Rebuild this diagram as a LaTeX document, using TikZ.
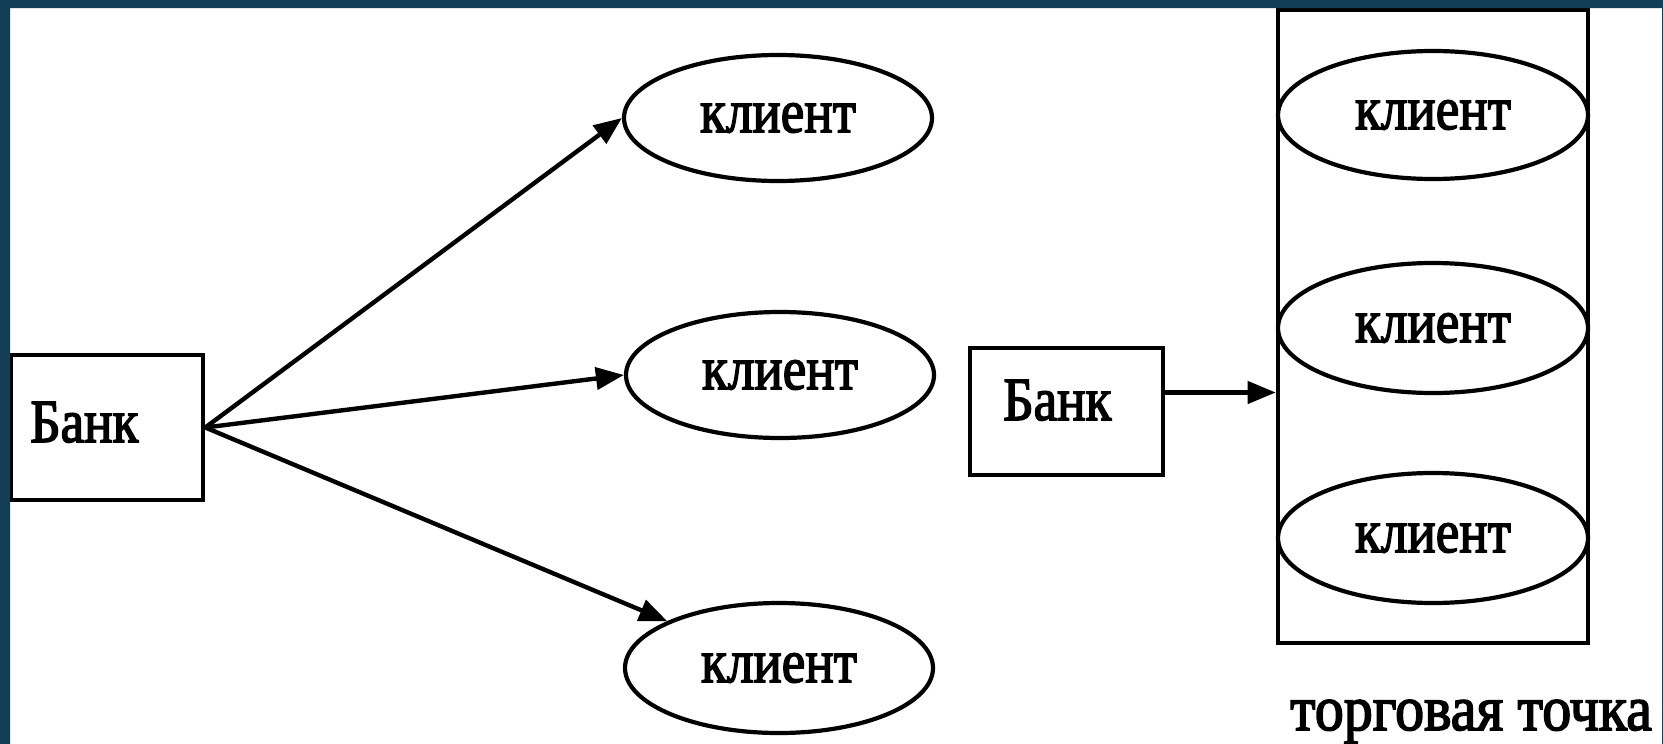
\documentclass[tikz,border=0pt]{standalone}
\usepackage{fontspec}
\usepackage{graphicx}
\setmainfont{Liberation Serif}
\newfontfamily\medfont{Liberation Serif}[FakeBold=2.6]
\usetikzlibrary{shapes.geometric,arrows.meta}
\definecolor{framecol}{HTML}{123F56}
\newcommand\mytxt{\medfont\fontsize{51}{60}\selectfont}
\newcommand\bigtxt{\medfont\fontsize{58}{66}\selectfont}
\newcommand\vs[1]{\scalebox{1.04}[1.2]{#1}}
\begin{document}
\begin{tikzpicture}[x=1pt,y=-1pt,
  box/.style={draw, rectangle, line width=4.6pt, inner sep=0pt},
  cli/.style={draw, ellipse, line width=4.2pt, inner sep=0pt, minimum width=308pt, minimum height=126pt, font=\mytxt},
  arr/.style={line width=4.4pt, -{Triangle[length=28pt,width=22pt]}},
  lbl/.style={font=\mytxt, inner sep=0pt, anchor=base west}]
\useasboundingbox (0,0) rectangle (1663,744);
\fill[white] (0,0) rectangle (1663,744);
% left part
\node[box, minimum width=192pt, minimum height=145pt] (bank1) at (107,427.5) {};
\node[lbl] (bank1t) at (30,442) {\vs{Банк}};
\node[cli] (c1) at (778,118) {\vs{клиент}};
\node[cli] (c2) at (780,375) {\vs{клиент}};
\node[cli, minimum height=130pt] (c3) at (779,668) {\vs{клиент}};
\draw[arr] (bank1.east) -- (c1.west);
\draw[arr] (bank1.east) -- (c2.west);
\draw[arr] (bank1.east) -- (c3);
% right part
\node[box, minimum width=193pt, minimum height=127pt] (bank2) at (1066.5,411.5) {};
\node[lbl] (bank2t) at (1003,420) {\vs{Банк}};
\node[box, minimum width=310pt, minimum height=633pt] (tp) at (1433,326.5) {};
\node[cli, minimum width=310pt, minimum height=128pt] (d1) at (1433,115) {\vs{клиент}};
\node[cli, minimum width=310pt, minimum height=130pt] (d2) at (1433,328) {\vs{клиент}};
\node[cli, minimum width=310pt, minimum height=130pt] (d3) at (1433,538) {\vs{клиент}};
\coordinate (s) at ([yshift=19pt]bank2.east);
\draw[arr] (s) -- (s -| tp.west);
\node[lbl, font=\bigtxt] (tpt) at (1290,730) {\scalebox{1}[1.1]{торговая точка}};
% frame
\fill[framecol, even odd rule] (0,0) rectangle (1663,744) (10,8) rectangle (1662,745);
\end{tikzpicture}
\end{document}
